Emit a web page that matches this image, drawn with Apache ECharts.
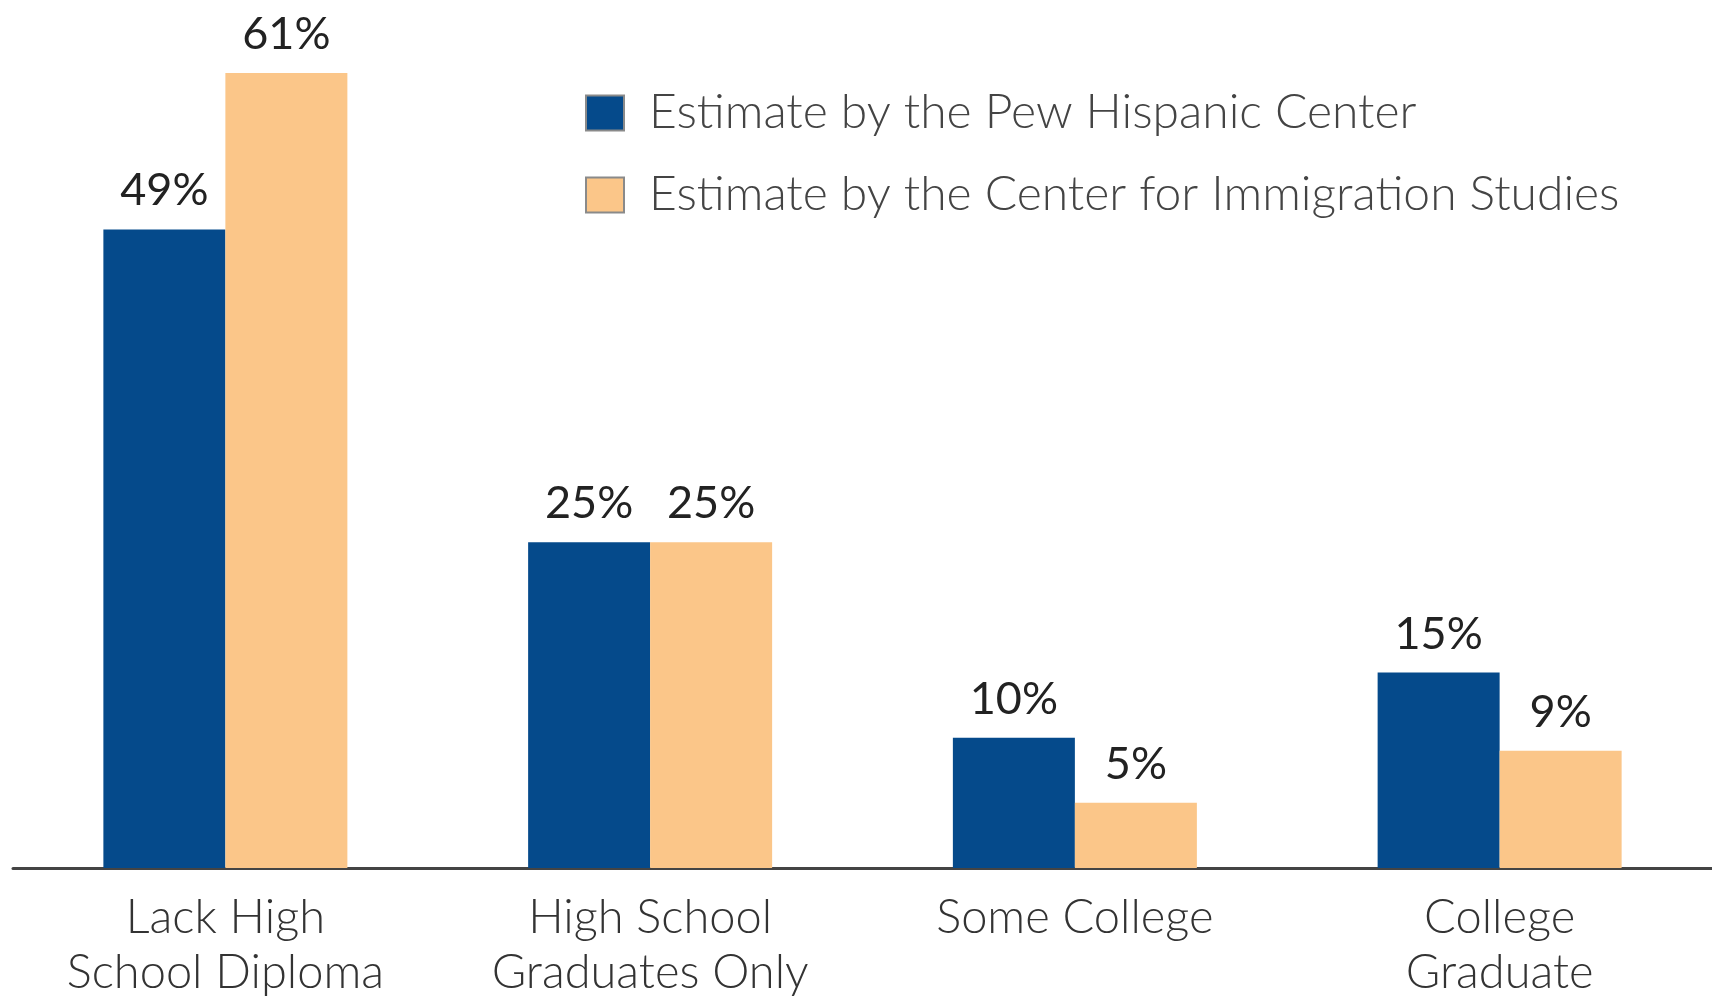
<!DOCTYPE html>
<html>
<head>
<meta charset="utf-8">
<script src="https://cdn.jsdelivr.net/npm/echarts@6/dist/echarts.min.js"></script>
<style>html,body{margin:0;padding:0;background:#fff}#c{width:1712px;height:996px}</style>
</head>
<body>
<div id="c"></div>
<script>
const categories = ['Lack High\nSchool Diploma', 'High School\nGraduates Only', 'Some College', 'College\nGraduate'];
const seriesNames = ['Estimate by the Pew Hispanic Center', 'Estimate by the Center for Immigration Studies'];
const pewValues = [49, 25, 10, 15];
const cisValues = [61, 25, 5, 9];

const FONT = 'Lato, "Open Sans", sans-serif';
const chart = echarts.init(document.getElementById('c'), null, {renderer: 'canvas'});
const labelCfg = {
  show: true, position: 'top', distance: 16,
  formatter: p => p.value + '%',
  fontFamily: FONT, fontSize: 45, fontWeight: 400, color: '#222'
};
chart.setOption({
  animation: false,
  backgroundColor: '#fff',
  grid: {left: 13, right: 0, top: 73, bottom: 128, containLabel: false, outerBoundsMode: 'none'},
  legend: {
    orient: 'vertical', left: 580, top: 84,
    itemWidth: 38, itemHeight: 35, itemGap: 34,
    icon: 'rect',
    itemStyle: {borderColor: '#8a8a8a', borderWidth: 2},
    textStyle: {fontFamily: FONT, fontSize: 48, fontWeight: 300, color: '#444', lineHeight: 48, padding: [0, 0, 0, 20]},
    data: seriesNames
  },
  xAxis: {
    type: 'category', data: categories,
    axisLine: {show: true, lineStyle: {color: '#444', width: 3}},
    axisTick: {show: false},
    axisLabel: {fontFamily: FONT, fontSize: 47, fontWeight: 300, color: '#333', lineHeight: 55, margin: 22, interval: 0}
  },
  yAxis: {type: 'value', min: 0, max: 61, show: false, splitLine: {show: false}},
  series: [
    {name: seriesNames[0], type: 'bar', data: pewValues, barWidth: 122, barGap: '0%',
     itemStyle: {color: '#054A8B'}, label: labelCfg},
    {name: seriesNames[1], type: 'bar', data: cisValues, barWidth: 122, barGap: '0%',
     itemStyle: {color: '#FBC689'}, label: labelCfg}
  ]
});
</script>
</body>
</html>
